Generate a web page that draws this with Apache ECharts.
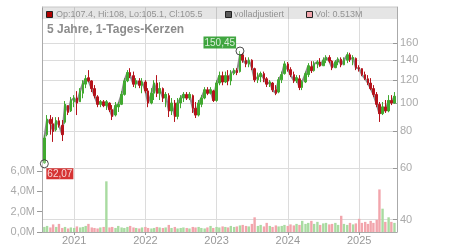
<!DOCTYPE html>
<html><head><meta charset="utf-8">
<script src="https://cdn.jsdelivr.net/npm/echarts@6/dist/echarts.min.js"></script>
<style>html,body{margin:0;padding:0;background:#fff}#c{width:450px;height:250px}</style>
</head><body><div id="c"></div>
<script>
// half-monthly candles (date, open, close, low, high), volume in millions
const dates = (
 "2020-08-01 2020-08-15 2020-09-01 2020-09-15 2020-10-01 2020-10-15 2020-11-01 2020-11-15 2020-12-01 2020-12-15 " +
 "2021-01-01 2021-01-15 2021-02-01 2021-02-15 2021-03-01 2021-03-15 2021-04-01 2021-04-15 2021-05-01 2021-05-15 2021-06-01 2021-06-15 " +
 "2021-07-01 2021-07-15 2021-08-01 2021-08-15 2021-09-01 2021-09-15 2021-10-01 2021-10-15 2021-11-01 2021-11-15 2021-12-01 2021-12-15 " +
 "2022-01-01 2022-01-15 2022-02-01 2022-02-15 2022-03-01 2022-03-15 2022-04-01 2022-04-15 2022-05-01 2022-05-15 2022-06-01 2022-06-15 " +
 "2022-07-01 2022-07-15 2022-08-01 2022-08-15 2022-09-01 2022-09-15 2022-10-01 2022-10-15 2022-11-01 2022-11-15 2022-12-01 2022-12-15 " +
 "2023-01-01 2023-01-15 2023-02-01 2023-02-15 2023-03-01 2023-03-15 2023-04-01 2023-04-15 2023-05-01 2023-05-15 2023-06-01 2023-06-15 " +
 "2023-07-01 2023-07-15 2023-08-01 2023-08-15 2023-09-01 2023-09-15 2023-10-01 2023-10-15 2023-11-01 2023-11-15 2023-12-01 2023-12-15 " +
 "2024-01-01 2024-01-15 2024-02-01 2024-02-15 2024-03-01 2024-03-15 2024-04-01 2024-04-15 2024-05-01 2024-05-15 2024-06-01 2024-06-15 " +
 "2024-07-01 2024-07-15 2024-08-01 2024-08-15 2024-09-01 2024-09-15 2024-10-01 2024-10-15 2024-11-01 2024-11-15 2024-12-01 2024-12-15 " +
 "2025-01-01 2025-01-15 2025-02-01 2025-02-15 2025-03-01 2025-03-15 2025-04-01 2025-04-15 2025-05-01 2025-05-15 2025-06-01 2025-06-15 2025-07-01"
).split(' ');

const openP = [62.5,78,88,85,81,87,84,86,98,94, 101,104,101,108,116,122,119,112,105,99,101,98, 100,95,91,97,99,107,119,127,124,116,119,115,
 118,110,100,108,117,108,112,104,106,94,100,90, 100,104,107,104,106,96,91,99,104,111,108,110,
 102,117,124,118,124,119,126,129,128,146,140,136, 140,131,120,123,126,121,116,117,111,109,120,126,
 136,130,125,119,121,113,118,125,133,129,136,138, 134,140,143,139,132,138,141,135,140,146,141,142,
 132,131,125,121,117,112,107,99,92,97,94,102,100];
const closeP = [76,88,85,80,87,84,78,99,93,102, 104,100,110,117,121,119,112,106,99,101,98,101, 95,90,98,99,107,119,127,124,116,119,115,118,
 110,100,108,117,108,112,104,107,94,100,90,100, 104,107,104,107,96,91,100,104,111,108,111,102,
 117,124,118,124,119,126,129,127,146,140,136,140, 132,120,123,126,121,116,118,111,108,120,125,136,
 130,125,119,122,113,118,126,134,129,136,138,134, 140,143,139,132,138,141,135,140,146,141,143,132,
 131,125,121,117,112,107,99,92,97,94,102,100,105.5];
const lowP = [62.07,77,78,73.7,80,82.5,74.2,85,91,93.2, 96.8,91,100.8,103.8,112.4,117.8,109,103.8,96.8,96.8,96.8,94.7, 93.2,87.5,90,93.2,98.4,106,117.8,121.6,113.4,112.4,112.4,108,
 108,96.8,99,102.4,104.8,102.4,100.8,96.8,89.6,91,86.2,88, 96,100.8,102.4,102.4,92.5,88.9,90,96.8,103,106.4,107,100.8,
 101,115,115,117,115,115,124.5,124.5,127,137.2,132.5,132.5, 129.5,117.8,117,117.8,117.8,113.4,113.4,109,106.4,108,117,125,
 128,122.6,117,117,110.7,110.7,117,122.6,126.6,128,131.5,133, 134,136.8,136.8,129.5,131.5,134.6,132.5,134.6,136.8,138.1,134.6,129.5,
 128,123.5,119.7,115.1,110.7,104.8,96.8,86.2,91,92.5,93,98.4,99.5];
const highP = [78,91,91,89.5,89.5,89.5,87.5,101.6,98.4,104.8, 106.4,109.8,112.4,119.7,124.5,129.5,119.7,115.1,106.4,102.4,102.4,102.4, 100.5,98.4,100.8,100.8,109.8,121.6,129.5,131.5,128,121.6,121.6,121.6,
 119.7,112.4,112.4,119.7,124.5,117.8,113,109,108,104,102.4,104, 106.4,109,109,109,107,100.8,102.4,106.4,113.3,113.3,113.3,111,
 119.7,128,128,128,129.5,129.5,131.5,131.5,150.45,148.4,143.2,143.2, 141,132,127,128,128,122.6,119.7,118,115.1,122.6,128,138.9,
 138,132.5,128,124.5,124.5,119.7,128,136.8,138.9,138.9,140,142.3, 143.2,145.6,145.6,140,140,143.2,143.2,143.2,149,148.4,145.6,143,
 134.6,131.5,128,124.5,121.6,115.1,109,100.8,100.8,102.4,106.4,106.4,109];
const volM = [0.5,0.6,0.45,0.75,0.5,0.8, 0.4,0.5,0.35,0.45,0.4,0.55,0.45, 0.5,0.6,0.8,0.45,0.4,0.35,0.45,0.5,
 5.0, 0.45,0.5,0.4,0.6,0.45,0.4,0.5,0.6,0.45, 0.4,0.35,0.45,0.5,0.4,0.35,0.4,0.5,0.45,0.4,
 0.45,0.7,0.4,0.5,0.35,0.4,0.45,0.4,0.35,0.5, 0.45,0.5,0.4,0.35,0.45,0.6,0.4,0.5,0.45,0.55,
 0.5,0.45,0.6,0.5,0.55,0.65,0.7,0.6,0.55,0.8, 1.45, 0.6,0.7,0.55,0.9,0.6,0.5,0.65,0.55,0.6,
 0.7,0.6,0.75,0.65,0.8,0.7,1.1,0.8,0.9,1.1, 0.8,1.0,0.7,0.85,0.9,0.75,0.8,0.9,0.7, 1.6,
 0.8,0.7,0.9,0.75,0.85,1.3,0.9,1.0,0.8,1.1,0.9,1.2, 4.2,2.3,1.0,1.45,1.0,0.9];

const priceTicks = [40,60,80,100,120,140,160];
const volTicks = [0,2,4,6];
const yearTicks = ['2021-01-01','2022-01-01','2023-01-01','2024-01-01','2025-01-01'];
const xRange = ['2020-07-20','2025-07-14'];
const lowPoint = {date:'2020-08-01', value:62.07, text:'62,07'};
const highPoint = {date:'2023-05-01', value:150.45, text:'150,45'};

const UP = '#41a930', DOWN = '#b5121b', VUP = '#a9dba1', VDOWN = '#f2a5ac';
const FONT = '"Liberation Sans", Arial, sans-serif';
const T = s => Date.parse(s + 'T00:00:00Z');

const candles = dates.map((d,i)=>[T(d), openP[i], closeP[i], lowP[i], highP[i]]);
const adj = dates.map((d,i)=>[T(d), closeP[i]]);
const vols = dates.map((d,i)=>({value:[T(d), volM[i]], itemStyle:{color: closeP[i] >= openP[i] ? VUP : VDOWN}}));

const chart = echarts.init(document.getElementById('c'), null, {renderer:'canvas'});
chart.setOption({
  animation:false,
  textStyle:{fontFamily:FONT},
  grid:{left:42, right:53, top:7, bottom:18, containLabel:false},
  xAxis:{type:'value', min:T(xRange[0]), max:T(xRange[1]),
    axisLine:{show:true, onZero:false, lineStyle:{color:'#aaa'}},
    axisTick:{show:true, customValues:yearTicks.map(T), length:3, lineStyle:{color:'#999'}},
    axisLabel:{customValues:yearTicks.map(T), formatter:v=>String(new Date(v).getUTCFullYear()), color:'#999', fontSize:11, margin:3, fontFamily:FONT},
    splitLine:{show:true, lineStyle:{color:'#dcdcdc'}}},
  yAxis:[
    {type:'value', position:'left', min:0, max:22.2,
     axisLine:{show:true, lineStyle:{color:'#aaa'}},
     axisTick:{show:true, customValues:volTicks, length:5, lineStyle:{color:'#999'}},
     axisLabel:{customValues:volTicks, formatter:v=>v.toFixed(1).replace('.',',')+'M', color:'#aaa', fontSize:11, margin:7, fontFamily:FONT},
     splitLine:{show:false}},
    {type:'log', logBase:10, position:'right', min:36.32, max:212.6,
     axisLine:{show:true, lineStyle:{color:'#aaa'}},
     axisTick:{show:true, inside:true, customValues:priceTicks, length:4, lineStyle:{color:'#999'}},
     axisLabel:{customValues:priceTicks, formatter:v=>String(Math.round(v)), color:'#aaa', fontSize:11, margin:3, fontFamily:FONT},
     splitLine:{show:true, lineStyle:{color:'#dcdcdc'}}}
  ],
  series:[
    {type:'bar', yAxisIndex:0, data:vols, barWidth:2.4, z:1},
    {type:'line', yAxisIndex:1, data:adj, symbol:'none', lineStyle:{color:'#8c8c8c', width:2}, z:2},
    {type:'candlestick', yAxisIndex:1, data:candles, barWidth:2, z:3,
     itemStyle:{color:UP, color0:DOWN, borderColor:UP, borderColor0:DOWN, borderWidth:1}},
    {type:'scatter', yAxisIndex:1, z:5, symbol:'circle', symbolSize:8,
     itemStyle:{color:'rgba(255,255,255,0.4)', borderColor:'#222', borderWidth:1},
     data:[
      {value:[T(lowPoint.date), lowPoint.value], label:{show:true, formatter:lowPoint.text, position:[6.5,9], color:'#fff', backgroundColor:'#cc0000', fontSize:10, lineHeight:10, padding:[1,1,0,1], fontFamily:FONT}},
      {value:[T(highPoint.date), highPoint.value], label:{show:true, formatter:highPoint.text, position:[-32,-10], color:'#fff', backgroundColor:'#109010', fontSize:10, lineHeight:11, padding:[1,1,0,1], fontFamily:FONT}}
     ]}
  ],
  graphic:[
    {type:'rect', shape:{x:42, y:7, width:355, height:12}, style:{fill:'rgba(0,0,0,0.1)'}, z:10, silent:true},
    {type:'line', shape:{x1:42, y1:7, x2:397, y2:7}, style:{stroke:'#c8c8c8', lineWidth:1}, z:10},
    {type:'rect', shape:{x:46.5, y:11.5, width:6, height:6}, style:{fill:'#b00000', stroke:'#222', lineWidth:1}, z:11},
    {type:'text', x:56, y:14.5, style:{text:'Op:107.4, Hi:108, Lo:105.1, Cl:105.5', fill:'#929292', font:'9px '+FONT, textVerticalAlign:'middle'}, z:11},
    {type:'rect', shape:{x:225.5, y:11.5, width:6, height:6}, style:{fill:'#5a5a5a', stroke:'#222', lineWidth:1}, z:11},
    {type:'text', x:234, y:14.5, style:{text:'volladjustiert', fill:'#929292', font:'9px '+FONT, textVerticalAlign:'middle'}, z:11},
    {type:'rect', shape:{x:306.5, y:11.5, width:6, height:6}, style:{fill:'#f2a5ac', stroke:'#222', lineWidth:1}, z:11},
    {type:'text', x:315, y:14.5, style:{text:'Vol: 0.513M', fill:'#929292', font:'9px '+FONT, textVerticalAlign:'middle'}, z:11},
    {type:'text', x:47, y:30, style:{text:'5 Jahre, 1-Tages-Kerzen', fill:'#8c8c8c', font:'bold 12px '+FONT, textVerticalAlign:'middle'}, z:11}
  ]
});
</script></body></html>
